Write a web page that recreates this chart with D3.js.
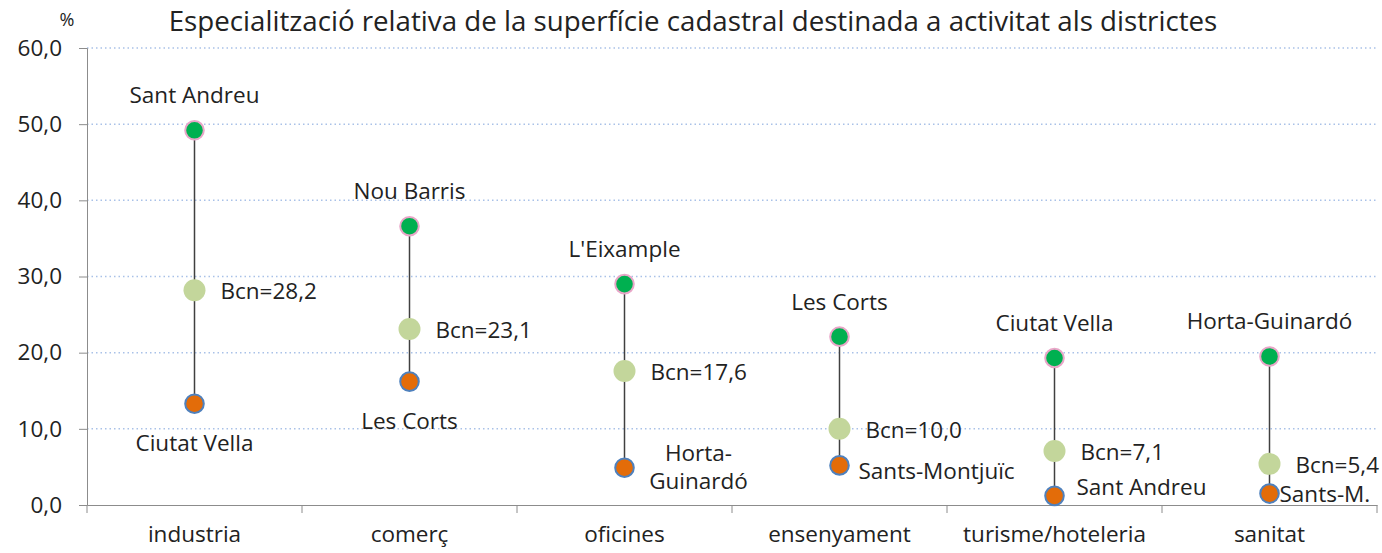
<!DOCTYPE html>
<html>
<head>
<meta charset="utf-8">
<script src="https://cdn.jsdelivr.net/npm/d3@7"></script>
<style>
  body { margin: 0; background: #fff; }
  text { font-family: "Open Sans", sans-serif; fill: #222; }
</style>
</head>
<body>
<div id="chart"></div>
<script>
// categories and values (%)
const categories = ['industria', 'comerç', 'oficines', 'ensenyament', 'turisme/hoteleria', 'sanitat'];
const maxValues = [49.2, 36.6, 29.0, 22.1, 19.3, 19.5];
const bcnValues = [28.2, 23.1, 17.6, 10.0, 7.1, 5.4];
const minValues = [13.3, 16.2, 4.9, 5.2, 1.2, 1.5];
const maxNames = ['Sant Andreu', 'Nou Barris', "L'Eixample", 'Les Corts', 'Ciutat Vella', 'Horta-Guinardó'];
const minNames = ['Ciutat Vella', 'Les Corts', 'Horta-\nGuinardó', 'Sants-Montjuïc', 'Sant Andreu', 'Sants-M.'];
const yTicks = [0, 10, 20, 30, 40, 50, 60];

const W = 1382, H = 553;
const margin = { top: 48, right: 5, bottom: 48, left: 87 };
const width = W - margin.left - margin.right;
const height = H - margin.top - margin.bottom;
const font = '"Open Sans", sans-serif';
const fs = '22.5px';

const svg = d3.select('#chart').append('svg')
  .attr('width', W).attr('height', H);

const g = svg.append('g')
  .attr('transform', `translate(${margin.left},${margin.top})`);

const x = d3.scaleBand().domain(categories).range([0, width]);
const y = d3.scaleLinear().domain([0, 60]).range([height, 0]);

// dotted gridlines
g.selectAll('line.grid')
  .data(yTicks.slice(1))
  .enter().append('line')
  .attr('class', 'grid')
  .attr('x1', 0).attr('x2', width)
  .attr('y1', d => y(d)).attr('y2', d => y(d))
  .style('stroke', '#a9c1e8')
  .style('stroke-width', 1.5)
  .style('stroke-dasharray', '1.5,3');

// y axis
const yAxis = g.append('g')
  .call(d3.axisLeft(y).tickValues(yTicks).tickSize(8).tickFormat(d => d3.format('.1f')(d).replace('.', ',')));
yAxis.select('.domain').style('stroke', '#8c8c8c');
yAxis.selectAll('.tick line').style('stroke', '#8c8c8c');
yAxis.selectAll('.tick text')
  .attr('x', -25)
  .style('font-size', fs)
  .style('font-family', font)
  .style('fill', '#222');

// x axis
const xAxis = g.append('g')
  .attr('transform', `translate(0,${height})`)
  .call(d3.axisBottom(x).tickSize(0).tickSizeOuter(0));
xAxis.select('.domain').style('stroke', '#8c8c8c');
xAxis.selectAll('.tick text')
  .attr('dy', 0)
  .attr('y', 37)
  .style('font-size', fs)
  .style('font-family', font)
  .style('fill', '#222');

// category separators
g.selectAll('line.sep')
  .data(categories)
  .enter().append('line')
  .attr('class', 'sep')
  .attr('x1', d => x(d) + x.bandwidth()).attr('x2', d => x(d) + x.bandwidth())
  .attr('y1', height).attr('y2', height + 8)
  .style('stroke', '#8c8c8c');

g.append('line')
  .attr('x1', 0).attr('x2', 0)
  .attr('y1', height).attr('y2', height + 8)
  .style('stroke', '#8c8c8c');

const cx = d => x(d) + x.bandwidth() / 2;

// range lines
g.selectAll('line.range')
  .data(categories)
  .enter().append('line')
  .attr('class', 'range')
  .attr('x1', cx).attr('x2', cx)
  .attr('y1', (d, i) => y(maxValues[i]))
  .attr('y2', (d, i) => y(minValues[i]))
  .style('stroke', '#404040')
  .style('stroke-width', 1.5);

// markers
g.selectAll('circle.bcn')
  .data(categories)
  .enter().append('circle')
  .attr('cx', cx).attr('cy', (d, i) => y(bcnValues[i]))
  .attr('r', 11)
  .style('fill', '#c3d69b');

g.selectAll('circle.max')
  .data(categories)
  .enter().append('circle')
  .attr('cx', cx).attr('cy', (d, i) => y(maxValues[i]))
  .attr('r', 9.3)
  .style('fill', '#00b050')
  .style('stroke', '#e9a6c8')
  .style('stroke-width', 2);

g.selectAll('circle.min')
  .data(categories)
  .enter().append('circle')
  .attr('cx', cx).attr('cy', (d, i) => y(minValues[i]))
  .attr('r', 9.3)
  .style('fill', '#e36c09')
  .style('stroke', '#4f81bd')
  .style('stroke-width', 2);

// labels
g.selectAll('text.maxlab')
  .data(categories)
  .enter().append('text')
  .attr('x', cx).attr('y', (d, i) => y(maxValues[i]) - 27)
  .attr('text-anchor', 'middle')
  .style('font-size', fs)
  .text((d, i) => maxNames[i]);

g.selectAll('text.bcnlab')
  .data(categories)
  .enter().append('text')
  .attr('x', d => cx(d) + 26).attr('y', (d, i) => y(bcnValues[i]) + 9)
  .style('font-size', fs)
  .text((d, i) => 'Bcn=' + d3.format('.1f')(bcnValues[i]).replace('.', ','));

// min label offsets: [dx, dy, anchor]
const minPos = [[0, 47, 'middle'], [0, 47, 'middle'], [74, -7, 'middle'], [19, 14, 'start'], [22, -1, 'start'], [10, 8, 'start']];
g.selectAll('text.minlab')
  .data(categories)
  .enter().append('text')
  .attr('x', (d, i) => cx(d) + minPos[i][0])
  .attr('y', (d, i) => y(minValues[i]) + minPos[i][1])
  .attr('text-anchor', (d, i) => minPos[i][2])
  .style('font-size', fs)
  .each(function(d, i) {
    const lines = minNames[i].split('\n');
    const t = d3.select(this);
    const x0 = t.attr('x');
    lines.forEach((l, j) => t.append('tspan').attr('x', x0).attr('dy', j ? 28 : 0).text(l));
  });

// title and unit
svg.append('text')
  .attr('x', 693).attr('y', 31)
  .attr('text-anchor', 'middle')
  .style('font-size', '27.7px')
  .text('Especialització relativa de la superfície cadastral destinada a activitat als districtes');

svg.append('text')
  .attr('x', 67).attr('y', 26)
  .attr('text-anchor', 'middle')
  .style('font-size', '18px')
  .text('%');
</script>
</body>
</html>
